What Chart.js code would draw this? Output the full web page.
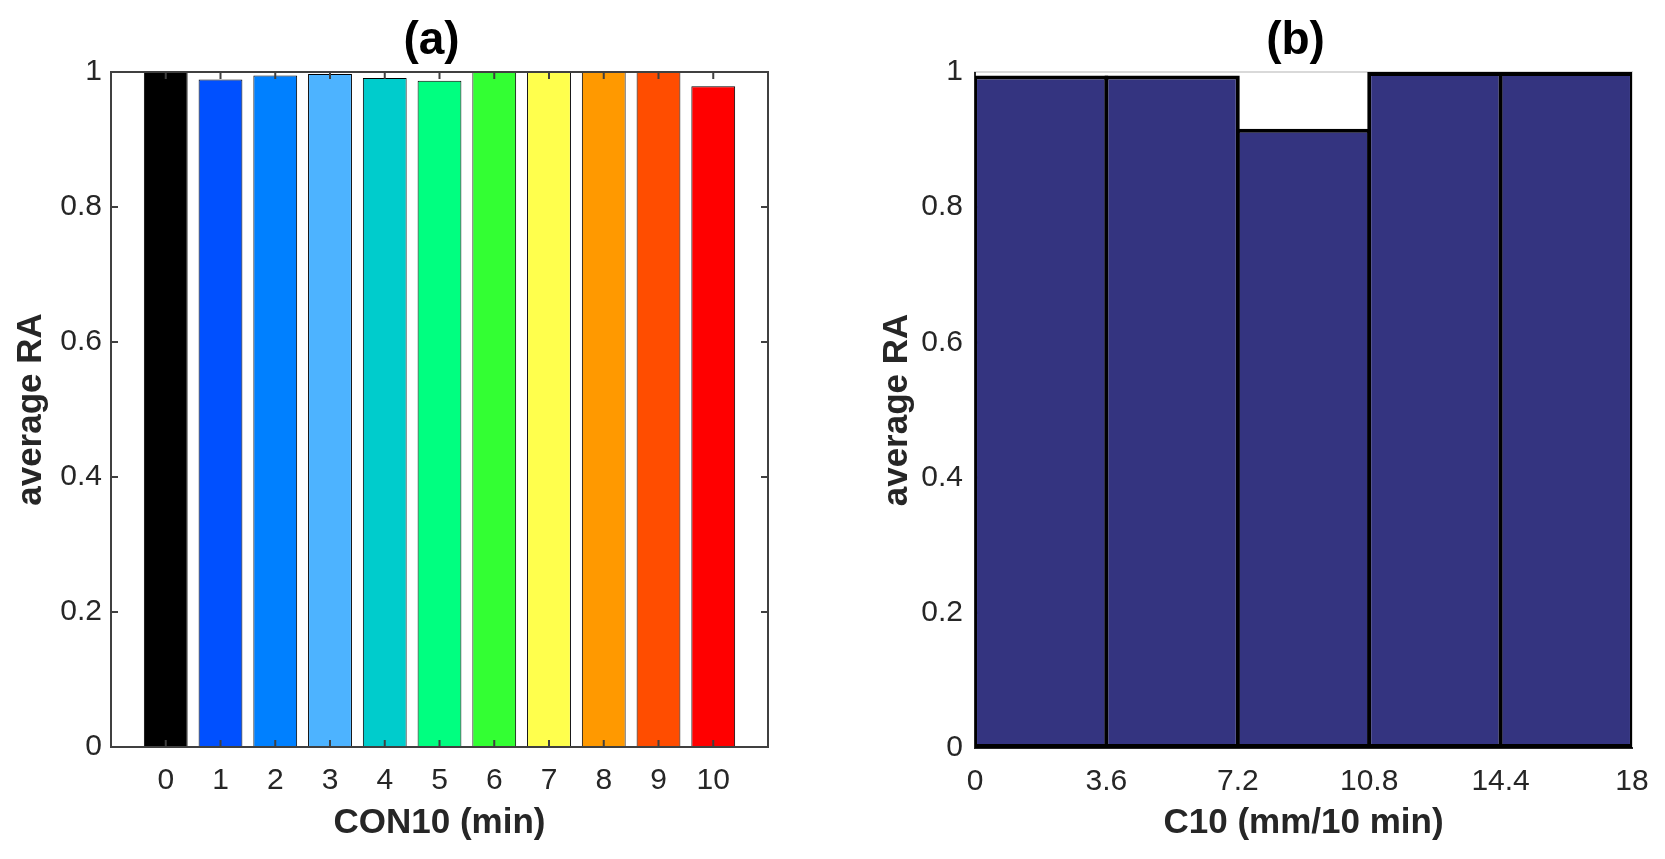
<!DOCTYPE html>
<html>
<head>
<meta charset="utf-8">
<title>average RA</title>
<script src="https://cdn.jsdelivr.net/npm/chart.js@4.4.1/dist/chart.umd.min.js"></script>
<style>
  html, body { margin: 0; padding: 0; background: #fff; }
  #wrap { position: relative; width: 1665px; height: 859px; }
  .panel { position: absolute; top: 0; width: 832px; height: 859px; }
</style>
</head>
<body>
<div id="wrap">
  <div class="panel" style="left:0"><canvas id="chartA"></canvas></div>
  <div class="panel" style="left:833px"><canvas id="chartB"></canvas></div>
</div>
<script>
// panel (a): average RA per CON10 minute
const conMinutes = [0, 1, 2, 3, 4, 5, 6, 7, 8, 9, 10];
const conRA = [1.0, 0.989, 0.995, 0.997, 0.991, 0.987, 1.0, 1.0, 1.0, 1.0, 0.979];
const conColors = ['#000000', '#0050ff', '#0080ff', '#4db3ff', '#00cccc', '#00ff80',
                   '#33ff33', '#ffff4d', '#ff9900', '#ff4d00', '#ff0000'];

// panel (b): average RA per C10 bin
const c10Edges = [0, 3.6, 7.2, 10.8, 14.4, 18];
const c10RA = [0.995, 0.995, 0.916, 1.0, 1.0];

const raTicks = [0, 0.2, 0.4, 0.6, 0.8, 1];

const FONT = "'Liberation Sans', Arial, Helvetica, sans-serif";
const TEXT = '#262626';

// MATLAB style frame: box lines and inward ticks
function drawFrame(chart, o) {
    const {ctx, chartArea} = chart;
    const {left, right, top, bottom} = chartArea;
    const xs = chart.scales.x;
    const ys = chart.scales.y;
    ctx.save();
    ctx.lineWidth = o.lineWidth;
    ctx.lineCap = 'butt';

    ctx.strokeStyle = o.tickColor;
    ctx.beginPath();
    ys.ticks.forEach((t) => {
        const py = ys.getPixelForValue(t.value);
        if (o.tickSides.includes('left')) { ctx.moveTo(left, py); ctx.lineTo(left + o.tickLen, py); }
        if (o.tickSides.includes('right')) { ctx.moveTo(right, py); ctx.lineTo(right - o.tickLen, py); }
    });
    xs.ticks.forEach((t) => {
        const px = xs.getPixelForValue(t.value);
        if (o.tickSides.includes('bottom')) { ctx.moveTo(px, bottom); ctx.lineTo(px, bottom - o.tickLen); }
        if (o.tickSides.includes('top')) { ctx.moveTo(px, top); ctx.lineTo(px, top + o.tickLen); }
    });
    ctx.stroke();

    const side = (color, x1, y1, x2, y2) => {
        ctx.strokeStyle = color;
        ctx.beginPath();
        ctx.moveTo(x1, y1);
        ctx.lineTo(x2, y2);
        ctx.stroke();
    };
    side(o.colors.top, left - 1, top, right + 1, top);
    side(o.colors.right, right, top, right, bottom);
    side(o.colors.bottom, left - 1, bottom, right + 1, bottom);
    side(o.colors.left, left, top, left, bottom);
    ctx.restore();
}

const framePlugin = {
    id: 'frame',
    beforeDatasetsDraw(chart, args, opts) {
        if (opts.layer === 'bottom') drawFrame(chart, opts);
    },
    afterDatasetsDraw(chart, args, opts) {
        if (opts.layer === 'top') drawFrame(chart, opts);
    }
};

const panelTitlePlugin = {
    id: 'panelTitle',
    afterDraw(chart, args, opts) {
        const {ctx, chartArea} = chart;
        ctx.save();
        ctx.font = `bold ${opts.size}px ${FONT}`;
        ctx.fillStyle = '#000';
        ctx.textAlign = 'center';
        ctx.textBaseline = 'middle';
        ctx.fillText(opts.text, (chartArea.left + chartArea.right) / 2 + opts.shift, opts.y);
        ctx.restore();
    }
};

function yScale(width, labelPad, titlePad) {
    return {
        type: 'linear',
        min: 0,
        max: 1,
        grid: { display: false, drawTicks: false },
        border: { display: false },
        afterBuildTicks: (s) => { s.ticks = raTicks.map((v) => ({ value: v })); },
        afterFit: (s) => { s.width = width; },
        ticks: {
            padding: labelPad,
            color: TEXT,
            font: { family: FONT, size: 30 },
            callback: (v) => String(v)
        },
        title: {
            display: true,
            text: 'average RA',
            color: TEXT,
            font: { family: FONT, size: 35, weight: 'bold' },
            padding: { top: titlePad, bottom: 0 }
        }
    };
}

function xScale(min, max, tickValues, height, label) {
    return {
        type: 'linear',
        min: min,
        max: max,
        offset: false,
        grid: { display: false, drawTicks: false, offset: false },
        border: { display: false },
        afterBuildTicks: (s) => { s.ticks = tickValues.map((v) => ({ value: v })); },
        afterFit: (s) => { s.height = height; },
        ticks: {
            padding: 16,
            autoSkip: false,
            maxRotation: 0,
            color: TEXT,
            font: { family: FONT, size: 30 },
            callback: (v) => String(v)
        },
        title: {
            display: true,
            text: label,
            color: TEXT,
            font: { family: FONT, size: 35, weight: 'bold' },
            padding: { top: 0, bottom: 15 }
        }
    };
}

const chartA = new Chart(document.getElementById('chartA'), {
    type: 'bar',
    data: {
        datasets: [{
            data: conMinutes.map((m, i) => ({ x: m, y: conRA[i] })),
            backgroundColor: conColors,
            borderColor: '#000000',
            borderWidth: 1,
            borderSkipped: false,
            barPercentage: 0.8,
            categoryPercentage: 1.0
        }]
    },
    options: {
        animation: false,
        responsive: true,
        maintainAspectRatio: false,
        layout: { padding: { top: 72, right: 64, left: 0, bottom: 0 } },
        plugins: {
            legend: { display: false },
            tooltip: { enabled: false },
            panelTitle: { text: '(a)', size: 46, y: 41, shift: -8 },
            frame: {
                layer: 'top',
                lineWidth: 2,
                tickLen: 7,
                tickColor: '#404040',
                tickSides: ['left', 'right', 'top', 'bottom'],
                colors: { top: '#404040', right: '#404040', bottom: '#404040', left: '#404040' }
            }
        },
        scales: {
            x: xScale(-1, 11, conMinutes, 112, 'CON10 (min)'),
            y: yScale(111, 9, 10)
        }
    },
    plugins: [framePlugin, panelTitlePlugin]
});

const c10Centers = c10RA.map((v, i) => (c10Edges[i] + c10Edges[i + 1]) / 2);

const chartB = new Chart(document.getElementById('chartB'), {
    type: 'bar',
    data: {
        datasets: [{
            data: c10Centers.map((c, i) => ({ x: c, y: c10RA[i] })),
            backgroundColor: '#343480',
            borderColor: '#000000',
            borderWidth: 4,
            borderSkipped: false,
            barPercentage: 1.03,
            categoryPercentage: 1.0
        }]
    },
    options: {
        animation: false,
        responsive: true,
        maintainAspectRatio: false,
        layout: { padding: { top: 72, right: 33, left: 0, bottom: 0 } },
        plugins: {
            legend: { display: false },
            tooltip: { enabled: false },
            panelTitle: { text: '(b)', size: 46, y: 41, shift: -8 },
            frame: {
                layer: 'bottom',
                lineWidth: 2,
                tickLen: 7,
                tickColor: '#262626',
                tickSides: ['left', 'bottom'],
                colors: { top: '#d9d9d9', right: '#d9d9d9', bottom: '#262626', left: '#262626' }
            }
        },
        scales: {
            x: xScale(0, 18, c10Edges, 111, 'C10 (mm/10 min)'),
            y: yScale(142, 12, 43)
        }
    },
    plugins: [framePlugin, panelTitlePlugin]
});
</script>
</body>
</html>
